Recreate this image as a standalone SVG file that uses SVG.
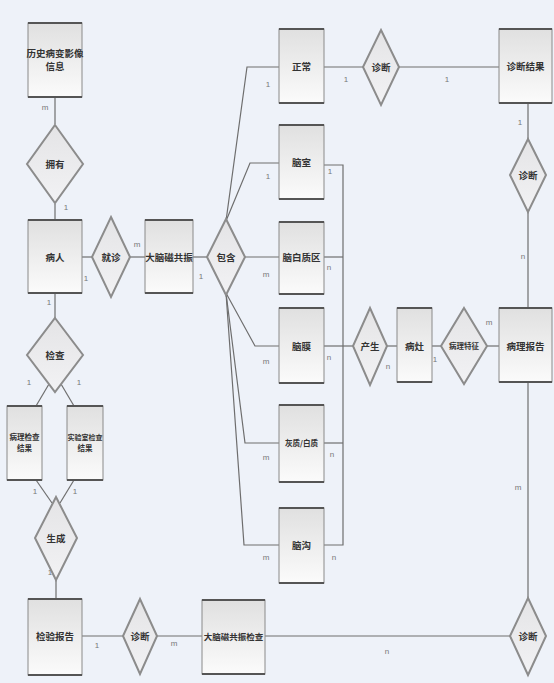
<svg xmlns="http://www.w3.org/2000/svg" width="554" height="683" viewBox="0 0 554 683">
<defs>
<linearGradient id="boxg" x1="0" y1="0" x2="0" y2="1">
<stop offset="0" stop-color="#e0e0e0"/>
<stop offset="1" stop-color="#fbfbfb"/>
</linearGradient>
<linearGradient id="diag" x1="0" y1="0" x2="0" y2="1">
<stop offset="0" stop-color="#e4e4e6"/>
<stop offset="1" stop-color="#f2f2f4"/>
</linearGradient>
</defs>
<style>
.box{fill:url(#boxg);stroke:#8a8a8a;stroke-width:1}
.edge{stroke:#555;stroke-width:2.2}
.dia{fill:url(#diag);stroke:#8c8c8c;stroke-width:2}
.ln{fill:none;stroke:#6e6e6e;stroke-width:1.2}
.t{font-family:"Noto Sans CJK SC","Liberation Sans",sans-serif;font-size:9.5px;fill:#333;text-anchor:middle;font-weight:bold}
.ts{font-family:"Noto Sans CJK SC","Liberation Sans",sans-serif;font-size:7.5px;fill:#333;text-anchor:middle;font-weight:bold}
.c{font-family:"Liberation Sans",sans-serif;font-size:8px;fill:#777;text-anchor:middle}
</style>
<rect x="0" y="0" width="554" height="683" fill="#eef2f9"/>

<g id="connectors">
<line class="ln" x1="55" y1="97" x2="55" y2="124"/>
<line class="ln" x1="55" y1="204" x2="55" y2="220"/>
<line class="ln" x1="82" y1="257" x2="92" y2="257"/>
<line class="ln" x1="130" y1="257" x2="145" y2="257"/>
<line class="ln" x1="193" y1="257" x2="207" y2="257"/>
<polyline class="ln" points="226,221 247,67 279,67"/>
<polyline class="ln" points="226,221 250,163 279,163"/>
<line class="ln" x1="245" y1="257" x2="279" y2="257"/>
<polyline class="ln" points="226,293 255,346 279,346"/>
<polyline class="ln" points="226,293 245,443 279,443"/>
<polyline class="ln" points="226,293 244,545 279,545"/>
<line class="ln" x1="324" y1="67" x2="364" y2="67"/>
<line class="ln" x1="399" y1="67" x2="499" y2="67"/>
<polyline class="ln" points="324,165 343,165 343,545 324,545"/>
<line class="ln" x1="324" y1="257" x2="343" y2="257"/>
<line class="ln" x1="324" y1="443" x2="343" y2="443"/>
<line class="ln" x1="324" y1="346" x2="353" y2="346"/>
<line class="ln" x1="387" y1="346" x2="397" y2="346"/>
<line class="ln" x1="432" y1="346" x2="441" y2="346"/>
<line class="ln" x1="487" y1="346" x2="499" y2="346"/>
<line class="ln" x1="528" y1="103" x2="528" y2="139"/>
<line class="ln" x1="528" y1="212" x2="528" y2="308"/>
<line class="ln" x1="528" y1="382" x2="528" y2="598"/>
<line class="ln" x1="265" y1="636" x2="510" y2="636"/>
<line class="ln" x1="82" y1="636" x2="123" y2="636"/>
<line class="ln" x1="157" y1="636" x2="202" y2="636"/>
<line class="ln" x1="55" y1="293" x2="55" y2="318"/>
<line class="ln" x1="49" y1="384" x2="36" y2="406"/>
<line class="ln" x1="61" y1="384" x2="74" y2="406"/>
<line class="ln" x1="36" y1="480" x2="52" y2="503"/>
<line class="ln" x1="74" y1="480" x2="60" y2="503"/>
<line class="ln" x1="56" y1="580" x2="56" y2="599"/>
</g>

<g id="cardinalities">
<text class="c" x="45" y="110">m</text>
<text class="c" x="66" y="210">1</text>
<text class="c" x="86" y="281">1</text>
<text class="c" x="137" y="247">m</text>
<text class="c" x="201" y="279">1</text>
<text class="c" x="268" y="87">1</text>
<text class="c" x="268" y="179">1</text>
<text class="c" x="266" y="277">m</text>
<text class="c" x="266" y="364">m</text>
<text class="c" x="266" y="460">m</text>
<text class="c" x="266" y="560">m</text>
<text class="c" x="346" y="82">1</text>
<text class="c" x="330" y="174">1</text>
<text class="c" x="329" y="270">n</text>
<text class="c" x="329" y="360">n</text>
<text class="c" x="332" y="457">n</text>
<text class="c" x="334" y="560">n</text>
<text class="c" x="447" y="82">1</text>
<text class="c" x="520" y="125">1</text>
<text class="c" x="523" y="259">n</text>
<text class="c" x="388" y="369">n</text>
<text class="c" x="435" y="362">1</text>
<text class="c" x="489" y="325">m</text>
<text class="c" x="518" y="490">m</text>
<text class="c" x="387" y="654">n</text>
<text class="c" x="97" y="648">1</text>
<text class="c" x="174" y="646">m</text>
<text class="c" x="49" y="305">1</text>
<text class="c" x="29" y="385">1</text>
<text class="c" x="79" y="385">1</text>
<text class="c" x="35" y="494">1</text>
<text class="c" x="75" y="494">1</text>
<text class="c" x="50" y="575">1</text>
</g>

<g id="n-history">
<rect class="box" x="28" y="23" width="54" height="74"/>
<line class="edge" x1="28" y1="23" x2="82" y2="23"/><line class="edge" x1="28" y1="97" x2="82" y2="97"/>
<text class="t" x="55" y="57">历史病变影像</text>
<text class="t" x="55" y="70">信息</text>
</g>
<g id="r-own">
<polygon class="dia" points="55,125 83,164 55,203 27,164"/>
<text class="t" x="55" y="168">拥有</text>
</g>
<g id="n-patient">
<rect class="box" x="28" y="220" width="54" height="73"/>
<line class="edge" x1="28" y1="220" x2="82" y2="220"/><line class="edge" x1="28" y1="293" x2="82" y2="293"/>
<text class="t" x="55" y="261">病人</text>
</g>
<g id="r-visit">
<polygon class="dia" points="111,217 130,257 111,297 92,257"/>
<text class="t" x="111" y="261">就诊</text>
</g>
<g id="n-mri">
<rect class="box" x="145" y="220" width="48" height="73"/>
<line class="edge" x1="145" y1="220" x2="193" y2="220"/><line class="edge" x1="145" y1="293" x2="193" y2="293"/>
<text class="t" x="169" y="261">大脑磁共振</text>
</g>
<g id="r-contain">
<polygon class="dia" points="226,219 245,257 226,295 207,257"/>
<text class="t" x="226" y="261">包含</text>
</g>
<g id="n-normal">
<rect class="box" x="279" y="29" width="45" height="74"/>
<line class="edge" x1="279" y1="29" x2="324" y2="29"/><line class="edge" x1="279" y1="103" x2="324" y2="103"/>
<text class="t" x="301.5" y="70">正常</text>
</g>
<g id="n-ventricle">
<rect class="box" x="279" y="125" width="45" height="74"/>
<line class="edge" x1="279" y1="125" x2="324" y2="125"/><line class="edge" x1="279" y1="199" x2="324" y2="199"/>
<text class="t" x="301.5" y="166">脑室</text>
</g>
<g id="n-whitearea">
<rect class="box" x="279" y="222" width="45" height="72"/>
<line class="edge" x1="279" y1="222" x2="324" y2="222"/><line class="edge" x1="279" y1="294" x2="324" y2="294"/>
<text class="t" x="301.5" y="261">脑白质区</text>
</g>
<g id="n-meninges">
<rect class="box" x="279" y="308" width="45" height="75"/>
<line class="edge" x1="279" y1="308" x2="324" y2="308"/><line class="edge" x1="279" y1="383" x2="324" y2="383"/>
<text class="t" x="301.5" y="350">脑膜</text>
</g>
<g id="n-graywhite">
<rect class="box" x="279" y="405" width="45" height="77"/>
<line class="edge" x1="279" y1="405" x2="324" y2="405"/><line class="edge" x1="279" y1="482" x2="324" y2="482"/>
<text class="ts" x="301.5" y="446">灰质/白质</text>
</g>
<g id="n-sulcus">
<rect class="box" x="279" y="508" width="45" height="75"/>
<line class="edge" x1="279" y1="508" x2="324" y2="508"/><line class="edge" x1="279" y1="583" x2="324" y2="583"/>
<text class="t" x="301.5" y="549">脑沟</text>
</g>
<g id="r-diag-top">
<polygon class="dia" points="381,30 399,67 381,105 363,67"/>
<text class="t" x="381" y="71">诊断</text>
</g>
<g id="n-result">
<rect class="box" x="499" y="29" width="53" height="74"/>
<line class="edge" x1="499" y1="29" x2="552" y2="29"/><line class="edge" x1="499" y1="103" x2="552" y2="103"/>
<text class="t" x="525.5" y="70">诊断结果</text>
</g>
<g id="r-diag-right">
<polygon class="dia" points="528,139 546,175 528,212 510,175"/>
<text class="t" x="528" y="179">诊断</text>
</g>
<g id="r-produce">
<polygon class="dia" points="370,308 387,346 370,385 353,346"/>
<text class="t" x="370" y="350">产生</text>
</g>
<g id="n-lesion">
<rect class="box" x="397" y="308" width="35" height="74"/>
<line class="edge" x1="397" y1="308" x2="432" y2="308"/><line class="edge" x1="397" y1="382" x2="432" y2="382"/>
<text class="t" x="414.5" y="350">病灶</text>
</g>
<g id="r-feature">
<polygon class="dia" points="464,308 487,346 464,384 441,346"/>
<text class="ts" x="464" y="349">病理特征</text>
</g>
<g id="n-report">
<rect class="box" x="499" y="308" width="53" height="74"/>
<line class="edge" x1="499" y1="308" x2="552" y2="308"/><line class="edge" x1="499" y1="382" x2="552" y2="382"/>
<text class="t" x="525.5" y="350">病理报告</text>
</g>
<g id="r-diag-br">
<polygon class="dia" points="528,598 546,636 528,675 510,636"/>
<text class="t" x="528" y="640">诊断</text>
</g>
<g id="r-check">
<polygon class="dia" points="55,318 83,355 55,392 27,355"/>
<text class="t" x="55" y="359">检查</text>
</g>
<g id="n-path">
<rect class="box" x="7" y="406" width="35" height="74"/>
<line class="edge" x1="7" y1="406" x2="42" y2="406"/><line class="edge" x1="7" y1="480" x2="42" y2="480"/>
<text class="ts" x="24.5" y="440">病理检查</text>
<text class="ts" x="24.5" y="451">结果</text>
</g>
<g id="n-lab">
<rect class="box" x="67" y="406" width="36" height="74"/>
<line class="edge" x1="67" y1="406" x2="103" y2="406"/><line class="edge" x1="67" y1="480" x2="103" y2="480"/>
<text class="ts" x="85" y="440" style="font-size:7px">实验室检查</text>
<text class="ts" x="85" y="451">结果</text>
</g>
<g id="r-gen">
<polygon class="dia" points="56,497 77,538 56,580 35,538"/>
<text class="t" x="56" y="542">生成</text>
</g>
<g id="n-lab-report">
<rect class="box" x="28" y="599" width="54" height="76"/>
<line class="edge" x1="28" y1="599" x2="82" y2="599"/><line class="edge" x1="28" y1="675" x2="82" y2="675"/>
<text class="t" x="55" y="640">检验报告</text>
</g>
<g id="r-diag-bottom">
<polygon class="dia" points="140,599 157,636 140,674 123,636"/>
<text class="t" x="140" y="640">诊断</text>
</g>
<g id="n-mri-exam">
<rect class="box" x="202" y="600" width="63" height="74"/>
<line class="edge" x1="202" y1="600" x2="265" y2="600"/><line class="edge" x1="202" y1="674" x2="265" y2="674"/>
<text class="t" x="233.5" y="640" style="font-size:8.5px">大脑磁共振检查</text>
</g>
</svg>
